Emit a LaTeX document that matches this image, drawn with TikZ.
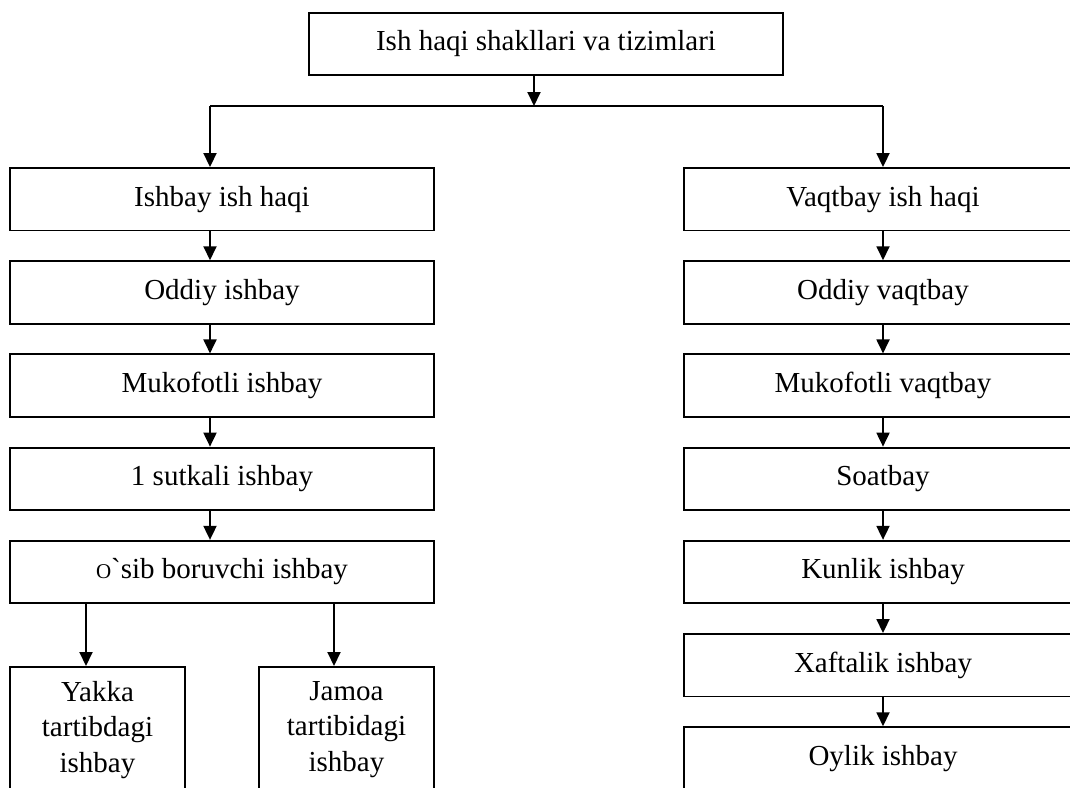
\documentclass[tikz,border=0pt]{standalone}
\usepackage{fontspec}
\setmainfont{Liberation Serif}[Ligatures=TeXOff]
\usetikzlibrary{arrows.meta}
\begin{document}
\begin{tikzpicture}[x=1pt,y=-1pt,
  box/.style={draw, line width=1.9pt, inner sep=0pt, minimum height=62.5pt,
    text height=20pt, text depth=6.5pt, font=\fontsize{29}{35.5}\selectfont},
  lbox/.style={box, minimum width=424pt},
  rbox/.style={box, minimum width=398pt},
  tall/.style={draw, line width=1.9pt, inner sep=0pt, minimum width=175pt, minimum height=150pt, anchor=north},
  multi/.style={align=center, anchor=north, inner sep=0pt, font=\fontsize{29}{35.5}\selectfont},
  conn/.style={line width=1.9pt},
  arr/.style={line width=1.9pt, -{Triangle[length=14pt,width=13pt]}}]
\useasboundingbox (0,0) rectangle (1070,787);
\clip (0,0) rectangle (1070,787);
% top
\node[box, minimum width=474pt] (top) at (546,44) {Ish haqi shakllari va tizimlari};
\coordinate (mid) at (534,106);
\coordinate (la) at (210,106);
\coordinate (ra) at (883,106);
\coordinate (ya) at (86,0);
\coordinate (ja) at (334,0);
% left column
\node[lbox] (l1) at (222,199.25) {Ishbay ish haqi};
\node[lbox] (l2) at (222,292.45) {Oddiy ishbay};
\node[lbox] (l3) at (222,385.65) {Mukofotli ishbay};
\node[lbox] (l4) at (222,478.85) {1 sutkali ishbay};
\node[lbox] (l5) at (222,572.05) {{\fontsize{21}{21}\selectfont O}`sib boruvchi ishbay};
\node[tall] (yk) at (97.5,666) {};
\node[multi] (ykt) at (97.5,681) {Yakka\\tartibdagi\\ishbay};
\node[tall] (jm) at (346.5,666) {};
\node[multi] (jmt) at (346.5,681) {Jamoa\\tartibidagi\\ishbay};
% right column
\node[rbox] (r1) at (883,199.25) {Vaqtbay ish haqi};
\node[rbox] (r2) at (883,292.45) {Oddiy vaqtbay};
\node[rbox] (r3) at (883,385.65) {Mukofotli vaqtbay};
\node[rbox] (r4) at (883,478.85) {Soatbay};
\node[rbox] (r5) at (883,572.05) {Kunlik ishbay};
\node[rbox] (r6) at (883,665.25) {Xaftalik ishbay};
\node[rbox] (r7) at (883,758.45) {Oylik ishbay};
% connectors
\draw[arr] (top.south -| mid) -- (mid);
\draw[conn] (la) -- (ra);
\draw[arr] (la) -- (l1.north -| la);
\draw[arr] (ra) -- (r1.north);
\draw[arr] (l1.south -| la) -- (l2.north -| la);
\draw[arr] (l2.south -| la) -- (l3.north -| la);
\draw[arr] (l3.south -| la) -- (l4.north -| la);
\draw[arr] (l4.south -| la) -- (l5.north -| la);
\draw[arr] (l5.south -| ya) -- (yk.north -| ya);
\draw[arr] (l5.south -| ja) -- (jm.north -| ja);
\draw[arr] (r1.south) -- (r2.north);
\draw[arr] (r2.south) -- (r3.north);
\draw[arr] (r3.south) -- (r4.north);
\draw[arr] (r4.south) -- (r5.north);
\draw[arr] (r5.south) -- (r6.north);
\draw[arr] (r6.south) -- (r7.north);
\end{tikzpicture}
\end{document}
